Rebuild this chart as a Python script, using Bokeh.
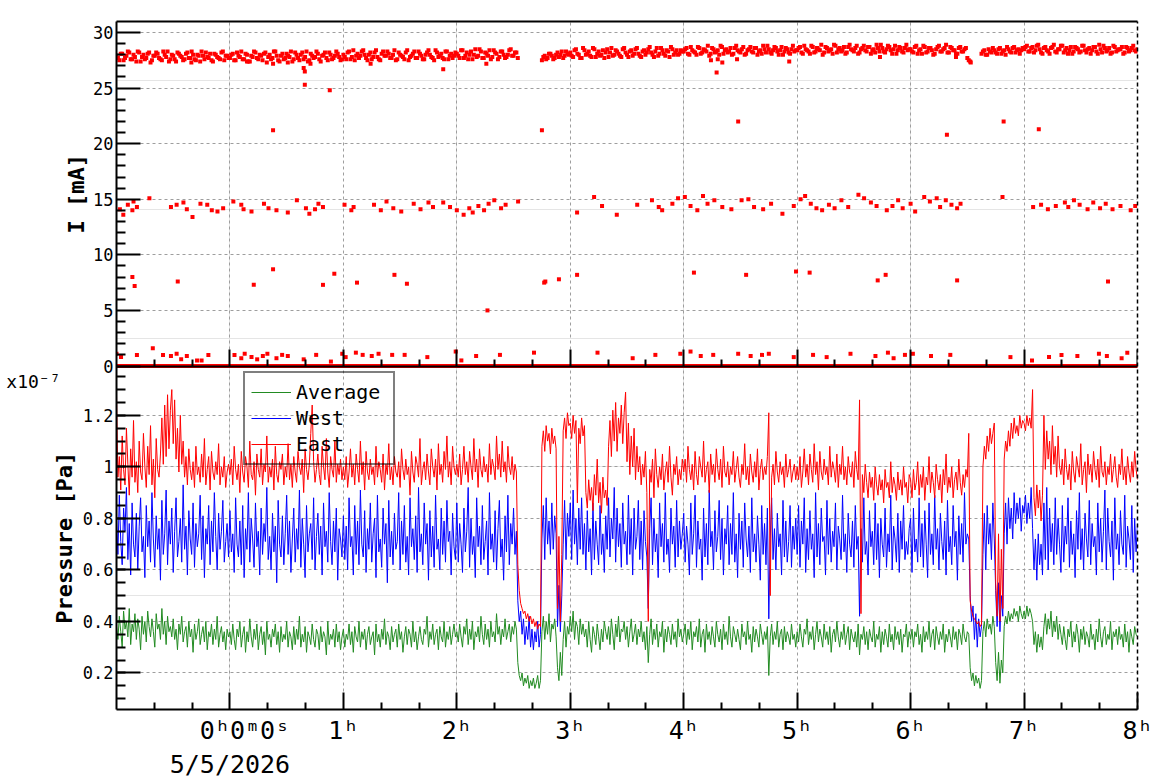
import json
import numpy as np
from bokeh.plotting import figure
from bokeh.models import (Range1d, Legend, LegendItem, FixedTicker, LinearAxis, Grid,
                          CustomJSTickFormatter)
from bokeh.embed import file_html
from bokeh.resources import INLINE

FONT = "DejaVu Sans Mono"
NB = "\u00a0"

# ---------------- data ----------------
# time in hours relative to 5/5/2026 00:00:00
P_START, P_STEP = -1.0, 0.0125   # pressure sample grid
I_START, I_STEP = -1.0, 0.025    # current sample grid (second set is offset by half a step)

# Pressure, units of 1e-9 Pa (axis shows x10^-7 Pa)
east_e9 = [
    # -1h
    128, 96, 104, 91, 112, 99, 93, 115, 101, 89, 107, 96, 118, 94, 102, 90, 110, 98, 95, 113,
    100, 92, 108, 97, 116, 93, 103, 88, 111, 99, 96, 105, 119, 101, 124, 104, 128, 107, 122, 130,
    109, 126, 103, 115, 98, 120, 101, 110, 96, 104, 93, 107, 99, 95, 102, 92, 108, 97, 100, 94,
    105, 96, 111, 93, 99, 104, 91, 106, 98, 95, 102, 97, 109, 93, 100, 96, 104, 92, 98, 101,
    # 0h
    97, 103, 93, 108, 99, 95, 101, 90, 106, 98, 94, 104, 100, 92, 110, 97, 95, 102, 89, 105,
    99, 96, 107, 93, 101, 98, 112, 94, 100, 96, 103, 91, 108, 97, 94, 102, 99, 105, 93, 100,
    96, 109, 95, 101, 92, 104, 98, 94, 106, 100, 97, 103, 90, 107, 99, 95, 101, 113, 124, 102,
    94, 99, 105, 97, 93, 108, 100, 95, 111, 98, 92, 104, 99, 96, 110, 94, 101, 97, 103, 95,
    # 1h
    100, 95, 104, 92, 98, 107, 96, 101, 93, 105, 99, 94, 110, 97, 102, 91, 106, 98, 95, 103,
    97, 100, 93, 108, 96, 102, 99, 94, 105, 91, 101, 97, 109, 95, 100, 93, 104, 98, 96, 102,
    92, 107, 99, 95, 103, 97, 100, 89, 106, 98, 94, 104, 101, 96, 111, 93, 99, 102, 95, 105,
    98, 93, 107, 100, 96, 103, 91, 109, 97, 101, 94, 106, 99, 112, 96, 102, 93, 108, 100, 97,
    # 2h
    101, 96, 105, 93, 99, 108, 97, 102, 94, 106, 100, 95, 111, 98, 103, 92, 107, 99, 96, 104,
    98, 101, 94, 109, 97, 103, 100, 95, 112, 99, 105, 96, 110, 98, 102, 94, 108, 100, 97, 104,
    95, 101, 98,
    62, 52, 47, 45, 43, 44, 41, 43, 40, 42, 39, 41, 38, 40, 37, 39, 38,
    108, 114, 106, 116, 110, 113, 105, 115, 109, 112, 107,
    45, 73, 40, 66,
    114, 119, 111, 121, 116,
    # 3h
    117, 111, 120, 113, 118, 86, 115, 109, 119, 112, 116,
    90, 84, 95, 87, 92, 83, 97, 89, 103, 86, 94, 82, 96, 88, 91, 85,
    108, 118, 104, 122, 110, 125, 106, 119, 113, 124, 109, 121,
    129, 102, 117, 97, 112, 100, 115, 95, 108, 98, 104,
    93, 101, 96, 106, 90, 40, 99, 94, 103, 88, 107, 97, 92, 100, 95, 105, 91, 98, 102, 94,
    108, 96, 89, 101, 97, 104, 93, 99, 95, 103,
    # 4h
    98, 103, 94, 108, 99, 95, 101, 91, 106, 97, 93, 104, 100, 96, 110, 94, 99, 102, 90, 105,
    97, 101, 94, 107, 99, 95, 103, 92, 108, 98, 96, 102, 93, 100, 97, 106, 94, 99, 104, 96,
    92, 101, 97, 109, 95, 100, 93, 105, 98, 94, 102, 96, 107, 91, 99, 103, 95, 100, 97, 104,
    121, 50, 96, 101, 93, 106, 98, 94, 102, 97, 100, 92, 105, 96, 99, 103, 94, 98, 101, 95,
    # 5h
    100, 95, 104, 92, 98, 107, 96, 101, 93, 105, 99, 94, 109, 97, 102, 91, 106, 98, 95, 103,
    97, 100, 93, 108, 96, 102, 99, 94, 105, 92, 101, 97, 108, 95, 100, 93, 104, 98, 96, 102,
    92, 106, 99, 95, 126, 43, 97, 90, 101, 94, 88, 98, 92, 96, 87, 100, 93, 89, 97, 91,
    95, 86, 99, 92, 94, 88, 102, 90, 96, 93, 87, 98, 91, 95, 89, 100, 92, 94, 86, 97,
    # 6h
    95, 88, 99, 91, 94, 102, 89, 97, 92, 100, 87, 96, 93, 104, 90, 98, 94, 88, 101, 95,
    91, 97, 86, 99, 93, 105, 90, 96, 92, 100, 88, 95, 98, 91, 103, 94, 89, 97, 92, 99,
    96,
    113,
    48, 44, 42, 41, 40, 39, 40, 38, 39,
    100, 108, 103, 112, 106, 115, 109, 113, 117,
    55, 42, 74, 40, 68, 45,
    103, 110, 106, 114, 108, 117, 111, 119, 113, 116, 112, 120, 115, 118,
    # 7h
    117, 114, 120, 116, 119, 115,
    130,
    88, 81, 93, 84, 91, 79, 89,
    120, 99, 114, 103, 110, 97, 116, 101, 108, 96, 112, 100,
    97, 103, 93, 107, 99, 95, 101, 91, 106, 98, 94, 104, 100, 96, 109, 93, 99, 102, 90, 105,
    97, 101, 94, 106, 99, 95, 103, 92, 108, 98, 96, 102, 93, 100, 97, 105, 94, 99, 104, 96,
    92, 101, 97, 107, 95, 100, 93, 104, 98, 94, 102, 96, 106, 99,
    95,
]
west_e9 = [
    # -1h
    80, 66, 89, 71, 62, 84, 75, 92, 64, 78, 58, 86, 70, 65, 82, 60, 77, 88, 67, 73,
    57, 85, 69, 79, 63, 90, 72, 61, 81, 68, 76, 56, 87, 66, 74, 91, 62, 79, 70, 84,
    59, 75, 88, 65, 71, 80, 63, 93, 68, 77, 58, 83, 72, 66, 86, 61, 78, 69, 74, 89,
    64, 81, 57, 76, 70, 85, 62, 79, 67, 90, 73, 60, 82, 68, 75, 87, 63, 71, 78, 65,
    # 0h
    83, 67, 74, 59, 88, 70, 65, 79, 62, 85, 57, 76, 68, 90, 63, 80, 72, 61, 86, 69,
    75, 58, 84, 66, 78, 71, 92, 64, 73, 60, 82, 67, 77, 55, 87, 70, 65, 81, 62, 74,
    89, 66, 79, 59, 72, 84, 63, 76, 68, 91, 61, 80, 70, 57, 85, 67, 74, 78, 64, 88,
    60, 73, 82, 66, 77, 58, 86, 69, 75, 63, 90, 71, 62, 79, 67, 84, 56, 76, 72, 65,
    # 1h
    81, 64, 77, 60, 88, 69, 73, 58, 85, 66, 79, 62, 91, 70, 65, 83, 59, 76, 68, 86,
    63, 74, 80, 57, 89, 67, 72, 61, 84, 70, 78, 55, 87, 65, 75, 62, 82, 68, 71, 90,
    60, 79, 66, 85, 63, 73, 58, 88, 69, 76, 64, 81, 59, 92, 67, 74, 62, 86, 70, 78,
    56, 83, 65, 77, 61, 89, 68, 72, 60, 84, 66, 79, 63, 87, 71, 75, 58, 82, 69, 64,
    # 2h
    86, 63, 78, 70, 59, 84, 67, 75, 92, 61, 80, 66, 73, 57, 88, 69, 77, 62, 85, 64,
    71, 79, 58, 90, 68, 74, 63, 83, 60, 76, 87, 65, 72, 56, 81, 67, 89, 62, 78, 70,
    84, 66, 75,
    48, 40, 44, 35, 41, 31, 38, 33, 42, 30, 37, 29, 36, 32, 40, 30, 35,
    72, 85, 64, 88, 70, 79, 66, 86, 68, 81, 74,
    38, 54, 36, 50,
    70, 87, 64, 82, 73,
    # 3h
    86, 64, 91, 70, 80, 62, 84, 68, 88, 66, 78,
    60, 83, 67, 76, 58, 86, 64, 79, 70, 62, 85, 66, 74, 59, 81, 68,
    88, 65, 80, 72, 92, 63, 84, 69, 78, 61, 86, 70,
    75, 62, 89, 66, 80, 58, 84, 68, 73, 87, 64,
    79, 60, 83, 71, 65, 45, 76, 88, 62, 80, 67, 74, 57, 86, 69, 78, 63, 90, 66, 72,
    59, 84, 70, 77, 61, 87, 65, 79, 68, 74,
    # 4h
    82, 63, 77, 70, 58, 86, 66, 74, 89, 61, 79, 68, 72, 56, 84, 65, 78, 62, 91, 69,
    75, 60, 83, 67, 73, 87, 64, 80, 58, 76, 70, 85, 62, 78, 66, 90, 63, 74, 57, 82,
    68, 79, 61, 86, 72, 65, 77, 59, 88, 67, 74, 63, 81, 70, 56, 85, 66, 78, 62, 84,
    41, 72, 88, 64, 76, 60, 82, 69, 74, 58, 87, 65, 79, 63, 71, 85, 61, 77, 68, 80,
    # 5h
    66, 85, 61, 79, 70, 88, 59, 76, 64, 83, 68, 74, 57, 90, 65, 78, 62, 84, 71, 73,
    58, 87, 66, 80, 63, 75, 69, 86, 60, 77, 72, 64, 89, 67, 74, 59, 82, 70, 65, 79,
    61, 85, 68, 73, 42, 76, 63, 88, 66, 71, 58, 83, 69, 75, 62, 86, 64, 78, 57, 80,
    70, 65, 84, 61, 74, 67, 89, 60, 77, 72, 63, 82, 59, 79, 68, 85, 64, 71, 66, 76,
    # 6h
    80, 59, 84, 67, 72, 63, 88, 65, 78, 61, 83, 70, 57, 86, 66, 74, 62, 89, 68, 76,
    60, 82, 71, 64, 79, 58, 87, 67, 73, 62, 85, 69, 75, 56, 81, 66, 78, 63, 90, 70,
    74,
    72,
    50, 40, 46, 33, 43, 30, 41, 34, 38,
    66, 82, 60, 85, 70, 78, 64, 86, 72,
    52, 38, 55, 36, 50, 42,
    74, 86, 70, 88, 76, 84, 72, 90, 78, 86, 80, 88, 75, 85,
    # 7h
    82, 89, 78, 86, 80, 92,
    76,
    60, 72, 56, 74, 62, 70, 58,
    86, 64, 92, 60, 84, 67, 78, 62, 88, 66, 80, 70,
    59, 85, 63, 77, 70, 88, 61, 79, 66, 74, 57, 83, 68, 90, 64, 76, 60, 82, 72, 65,
    87, 62, 78, 69, 73, 58, 86, 67, 80, 63, 75, 91, 60, 84, 71, 65, 79, 56, 88, 68,
    74, 62, 83, 70, 66, 89, 61, 77, 72, 64, 85, 59, 80, 67,
    78,
]
avg_e9 = [
    # -1h
    38, 33, 42, 36, 30, 44, 37, 40, 34, 45, 31, 39, 36, 43, 33, 41, 37, 29, 42, 35,
    40, 32, 44, 38, 34, 41, 36, 30, 43, 37, 39, 33, 45, 35, 40, 31, 42, 36, 38, 34,
    41, 33, 37, 29, 39, 35, 42, 32, 36, 38, 30, 40, 34, 37, 28, 39, 33, 36, 41, 31,
    35, 38, 32, 40, 29, 36, 34, 39, 31, 37, 33, 42, 30, 35, 38, 32, 36, 29, 37, 34,
    # 0h
    36, 31, 39, 33, 29, 37, 34, 40, 30, 35, 38, 28, 36, 32, 41, 34, 30, 37, 33, 39,
    29, 35, 38, 31, 36, 27, 40, 33, 35, 30, 37, 34, 39, 31, 36, 28, 38, 32, 35, 33,
    40, 30, 36, 34, 29, 38, 31, 37, 33, 42, 30, 35, 32, 38, 28, 36, 34, 31, 39, 33,
    30, 37, 35, 29, 38, 32, 36, 34, 27, 40, 31, 35, 33, 37, 30, 39, 32, 36, 29, 34,
    # 1h
    37, 30, 35, 33, 39, 31, 36, 28, 38, 34, 32, 40, 30, 36, 33, 37, 29, 35, 38, 31,
    34, 36, 27, 39, 32, 35, 30, 37, 33, 41, 31, 36, 34, 29, 38, 32, 35, 37, 30, 39,
    33, 36, 28, 34, 38, 31, 37, 35, 30, 40, 32, 36, 29, 34, 38, 33, 31, 37, 35, 42,
    30, 36, 33, 39, 31, 35, 37, 29, 38, 34, 32, 40, 30, 36, 33, 38, 31, 35, 39, 34,
    # 2h
    36, 32, 39, 34, 30, 38, 35, 41, 31, 37, 33, 40, 29, 36, 34, 38, 32, 42, 35, 31,
    39, 33, 37, 30, 40, 34, 36, 32, 43, 35, 38, 31, 37, 34, 41, 33, 36, 39, 32, 38,
    35, 40, 37,
    24, 19, 17, 20, 15, 18, 16, 19, 14, 17, 15, 18, 14, 16, 19, 14, 17,
    36, 42, 33, 40, 35, 43, 32, 39, 37, 41, 34,
    22, 17, 28, 19,
    33, 40, 30, 38, 35,
    # 3h
    42, 36, 44, 33, 40, 38, 31, 41, 35, 39, 34,
    37, 30, 40, 33, 28, 38, 35, 31, 39, 34, 29, 37, 32, 40, 36, 33,
    38, 31, 41, 35, 29, 39, 34, 42, 32, 37, 36, 40,
    33, 38, 30, 36, 41, 32, 35, 39, 31, 37, 34,
    40, 32, 36, 29, 38, 24, 35, 41, 31, 37, 33, 39, 30, 36, 34, 40, 28, 37, 32, 38,
    35, 31, 39, 33, 36, 30, 41, 34, 37, 32,
    # 4h
    35, 39, 31, 37, 33, 40, 29, 36, 34, 38, 32, 41, 30, 35, 37, 28, 39, 33, 36, 31,
    38, 34, 30, 40, 35, 32, 37, 29, 39, 33, 36, 31, 42, 34, 30, 38, 35, 32, 37, 33,
    29, 39, 34, 36, 31, 40, 33, 35, 28, 38, 32, 37, 34, 30, 39, 35, 31, 36, 33, 38,
    19, 34, 39, 31, 36, 33, 40, 30, 35, 37, 29, 38, 32, 36, 34, 31, 39, 33, 35, 30,
    # 5h
    36, 32, 39, 34, 30, 37, 35, 41, 31, 36, 33, 38, 29, 35, 40, 32, 37, 34, 30, 39,
    33, 36, 31, 38, 28, 35, 37, 32, 40, 34, 30, 36, 33, 39, 31, 35, 38, 29, 37, 34,
    32, 36, 30, 39, 27, 35, 33, 38, 31, 36, 29, 37, 34, 32, 40, 30, 35, 33, 38, 28,
    36, 31, 37, 34, 30, 39, 32, 35, 29, 38, 33, 36, 31, 37, 28, 35, 34, 39, 30, 36,
    # 6h
    33, 37, 30, 36, 34, 39, 31, 35, 28, 38, 32, 36, 33, 40, 30, 35, 37, 29, 38, 34,
    31, 36, 33, 39, 28, 35, 32, 37, 34, 30, 38, 33, 36, 29, 37, 35, 31, 39, 34, 32,
    36,
    35,
    22, 17, 20, 15, 19, 16, 18, 14, 17,
    36, 40, 34, 41, 37, 39, 35, 42, 38,
    24, 17, 28, 16, 25, 20,
    38, 42, 39, 44, 40, 43, 41, 45, 42, 44, 40, 46, 43, 41,
    # 7h
    44, 41, 46, 42, 45, 43,
    40,
    31, 36, 28, 35, 30, 34, 29,
    38, 43, 35, 41, 37, 44, 34, 40, 36, 42, 33, 39,
    35, 31, 38, 33, 29, 37, 34, 40, 30, 36, 32, 39, 35, 28, 37, 33, 38, 31, 36, 34,
    30, 39, 33, 35, 29, 37, 32, 41, 34, 30, 36, 38, 31, 35, 33, 40, 29, 36, 34, 37,
    31, 38, 33, 35, 30, 39, 32, 36, 28, 37, 34, 31, 38, 35,
    34,
]

# Beam current, tenths of mA (None = no beam reading)
I_main_d = [
    279, 275, 281, 277, 283, 276, 280, 274, 282, 278, 276, 281, 273, 279, 282, 277, 275, 280, 283, 276,
    279, 274, 281, 278, 276, 282, 277, 280, 275, 279, 283, 276, 278, 281, 274, 280, 277, 282, 275, 279,
    277, 281, 275, 279, 283, 276, 280, 274, 278, 282, 276, 279, 281, 273, 280, 277, 283, 275, 279, 276,
    281, 278, 274, 282, 277, 280, 276, 283, 275, 279, 278, 281, 274, 280, 277, 282, 276, 279, 281, 275,
    280, 276, 283, 278, 275, 281, 279, 284, 277, 280, 276, 282, 278, 275, 283, 279, 281, 277, 284, 276,
    280, 278, 282, 275, 279, 283, 277, 281, 276, 280, 284, 278, 275, 282, 279, 277, 283, 276, 281, 279,
    281, 277, 284, 279, 276, 283, 280, 278, 285, 277, 282, 279, 276, 284, 281, 278, 283, 277, 280, 285,
    279, 282, None, None, None, None, None, None, None, None, 275, 279, 277, 281, 276, 280, 278, 283, 279, 281,
    282, 278, 285, 280, 277, 284, 281, 279, 286, 278, 283, 280, 277, 285, 282, 279, 284, 281, 278, 286,
    280, 283, 279, 285, 281, 278, 284, 282, 287, 280, 283, 279, 286, 281, 284, 278, 285, 282, 280, 284,
    283, 286, 280, 284, 282, 287, 281, 285, 283, 279, 286, 282, 284, 288, 281, 285, 283, 280, 286, 284,
    282, 287, 281, 285, 283, 286, 280, 284, 288, 282, 285, 281, 287, 283, 284, 280, 286, 282, 285, 283,
    284, 287, 281, 285, 283, 288, 282, 286, 284, 280, 287, 283, 285, 289, 282, 286, 284, 281, 287, 285,
    283, 288, 282, 286, 284, 287, 281, 285, 289, 283, 286, 282, 288, 284, 285, 281, 287, 283, 286, 284,
    285, 282, 288, 284, 281, 287, 283, 286, 280, 285, 288, 283, 286, 282, 287, 284, 281, 286, 283, 285,
    277, 274, None, None, None, 281, 284, 280, 283, 286, 282, 285, 281, 284, 287, 283, 286, 282, 285, 284,
    285, 288, 283, 287, 284, 289, 282, 286, 284, 281, 287, 283, 285, 288, 282, 286, 284, 281, 287, 285,
    283, 288, 282, 286, 284, 287, 281, 285, 288, 283, 286, 282, 287, 284, 285, 281, 287, 283, 286, 284,
    285,
]
I_mid_d = [
    277, 281, 275, 279, 282, 276, 278, 283, 274, 280, 277, 282, 275, 279, 281, 276, 283, 278, 274, 280,
    276, 282, 279, 275, 281, 277, 283, 276, 280, 274, 279, 282, 277, 275, 281, 278, 276, 283, 279, 277,
    280, 275, 282, 278, 276, 281, 274, 279, 283, 277, 280, 275, 282, 278, 276, 283, 279, 274, 281, 277,
    279, 283, 276, 280, 275, 282, 278, 274, 281, 277, 283, 276, 279, 282, 275, 280, 277, 283, 278, 276,
    278, 282, 276, 284, 279, 277, 283, 280, 275, 282, 278, 284, 276, 281, 279, 283, 277, 280, 275, 282,
    279, 276, 284, 278, 281, 277, 283, 279, 276, 282, 280, 277, 284, 278, 281, 276, 283, 279, 277, 282,
    279, 284, 277, 282, 280, 276, 285, 279, 283, 277, 281, 284, 278, 282, 276, 283, 280, 278, 284, 279,
    282, 277, None, None, None, None, None, None, None, None, 278, 276, 281, 279, 277, 282, 280, 277, 283, 280,
    279, 284, 281, 277, 286, 280, 283, 278, 285, 281, 279, 284, 282, 278, 286, 280, 283, 279, 285, 282,
    278, 284, 281, 286, 279, 283, 280, 285, 282, 278, 286, 281, 284, 279, 283, 287, 280, 284, 281, 283,
    285, 281, 287, 283, 280, 286, 282, 284, 288, 281, 285, 283, 280, 287, 284, 282, 286, 281, 288, 283,
    285, 280, 284, 287, 282, 286, 283, 281, 285, 288, 282, 284, 286, 280, 287, 283, 285, 281, 288, 284,
    286, 282, 288, 284, 281, 287, 283, 285, 289, 282, 286, 284, 281, 288, 285, 283, 287, 282, 289, 284,
    286, 281, 285, 288, 283, 287, 284, 282, 286, 289, 283, 285, 287, 281, 288, 284, 286, 282, 289, 285,
    283, 287, 281, 285, 288, 282, 286, 284, 281, 287, 283, 285, 289, 282, 286, 284, 281, 287, 283, 286,
    275, None, None, None, None, 283, 280, 285, 282, 284, 281, 286, 283, 280, 285, 282, 287, 284, 281, 286,
    287, 283, 286, 282, 288, 285, 281, 287, 283, 286, 289, 282, 285, 288, 284, 281, 287, 283, 286, 282,
    288, 284, 285, 281, 287, 283, 289, 282, 286, 284, 281, 288, 283, 285, 287, 282, 286, 284, 288, 283,
]

# Isolated current readings: time [h], current [mA]
I_out_t = [
    -0.97, -0.94, -0.90, -0.86, -0.85, -0.82, -0.71, -0.52, -0.47, -0.41, -0.38, -0.33, -0.26, -0.20,
    -0.16, -0.11, -0.06, 0.03, 0.10, 0.12, 0.19, 0.30, 0.34, 0.41, 0.51, 0.59, 0.67, 0.70, 0.75, 0.78,
    0.82, 1.01, 1.07, 1.09, 1.27, 1.33, 1.38, 1.44, 1.51, 1.62, 1.68, 1.75, 1.79, 1.88, 1.94, 2.00,
    2.06, 2.11, 2.14, 2.19, 2.24, 2.28, 2.33, 2.39, 2.43, 2.54, 3.06, 3.21, 3.28, 3.41, 3.59, 3.72,
    3.78, 3.81, 3.90, 3.95, 4.01, 4.06, 4.12, 4.17, 4.21, 4.27, 4.34, 4.42, 4.51, 4.57, 4.62, 4.70,
    4.77, 4.87, 4.97, 5.03, 5.07, 5.12, 5.17, 5.22, 5.28, 5.33, 5.39, 5.45, 5.54, 5.59, 5.65, 5.70,
    5.79, 5.84, 5.89, 5.93, 6.00, 6.04, 6.12, 6.17, 6.23, 6.26, 6.31, 6.36, 6.41, 6.44, 6.81, 7.08,
    7.15, 7.21, 7.28, 7.36, 7.39, 7.44, 7.49, 7.56, 7.61, 7.67, 7.72, 7.78, 7.85, 7.94, 7.98,
    -0.86, -0.84, -0.46, 0.21, 0.38, 0.82, 0.92, 1.12, 1.45, 1.56, 2.27, 2.77, 2.78, 2.90, 3.06, 4.09,
    4.55, 4.99, 5.11, 5.71, 5.78, 6.41, 7.74,
    0.38, 0.65, 0.66, 0.66, 0.88, 2.75, 4.29, 4.48, 6.32, 6.82, 7.13,
    -0.34, 0.15, 0.38, 0.51, 0.71, 1.24, 1.88, 2.26, 4.24, 4.30, 4.34, 4.47, 4.93, 5.73, 6.40, 6.53,
    -1.00, -0.96, -0.82, -0.68, -0.59, -0.52, -0.47, -0.43, -0.38, -0.29, -0.25, -0.19, 0.04, 0.10,
    0.13, 0.19, 0.24, 0.29, 0.33, 0.41, 0.46, 0.51, 0.65, 0.76, 0.89, 0.99, 1.02, 1.11, 1.17, 1.25,
    1.31, 1.43, 1.54, 1.74, 1.99, 2.04, 2.17, 2.38, 2.68, 3.24, 3.55, 3.75, 3.97, 4.06, 4.15, 4.26,
    4.48, 4.59, 4.69, 4.75, 4.97, 5.14, 5.26, 5.47, 5.69, 5.80, 5.85, 5.95, 6.02, 6.18, 6.35, 6.88,
    7.07, 7.22, 7.33, 7.47, 7.66, 7.73, 7.86, 7.91,
]
I_out_v = [
    14.1, 13.6, 14.5, 14.0, 14.8, 14.3, 15.1, 14.3, 14.5, 14.7, 14.1, 13.4, 14.6, 14.5,
    14.0, 13.9, 14.2, 14.8, 14.5, 14.1, 13.9, 14.6, 14.2, 14.0, 13.8, 14.9, 14.2, 13.7, 14.1, 14.6,
    14.3, 14.5, 14.0, 14.3, 14.5, 14.0, 14.8, 14.2, 13.9, 14.6, 14.1, 14.7, 14.3, 14.7, 14.3, 14.0,
    13.6, 14.2, 13.8, 14.4, 14.0, 14.6, 14.9, 14.2, 14.5, 14.8, 13.8, 15.2, 14.4, 13.6, 14.5, 14.9,
    14.3, 14.0, 14.6, 15.1, 15.2, 14.4, 14.0, 15.3, 14.6, 14.9, 14.3, 14.1, 14.9, 15.0, 14.3, 14.1,
    14.6, 13.7, 14.4, 15.0, 15.3, 14.6, 14.2, 14.0, 14.5, 14.2, 14.9, 14.3, 15.4, 15.1, 14.7, 14.4,
    14.0, 14.4, 14.9, 14.2, 14.6, 13.9, 15.2, 14.8, 15.1, 14.3, 14.9, 14.5, 14.2, 14.6, 15.2, 14.3,
    14.5, 14.1, 14.4, 14.7, 14.3, 14.9, 14.5, 14.1, 14.7, 14.2, 14.6, 14.1, 14.4, 14.0, 14.4,
    8.0, 7.2, 7.6, 7.3, 8.7, 7.3, 8.3, 7.5, 8.2, 7.4, 5.0, 7.5, 7.6, 7.8, 8.2, 8.4,
    8.2, 8.5, 8.4, 7.7, 8.2, 7.7, 7.6,
    21.2, 26.8, 26.5, 25.3, 24.8, 21.2, 26.4, 22.0, 20.8, 22.0, 21.3,
    27.3, 27.4, 27.2, 27.3, 27.2, 27.2, 26.7, 27.2, 27.5, 27.6, 27.3, 27.6, 27.4, 27.8, 27.8, 27.3,
    1.1, 0.8, 1.0, 1.6, 1.0, 0.9, 1.1, 0.6, 0.9, 0.5, 0.5, 1.0, 1.0, 0.7,
    1.1, 0.8, 0.6, 0.9, 1.1, 0.7, 1.0, 0.9, 0.6, 1.0, 0.4, 1.1, 0.8, 1.2, 1.0, 0.9,
    1.1, 1.0, 1.0, 0.8, 1.3, 0.5, 0.9, 1.0, 1.2, 1.2, 0.7, 1.0, 1.1, 1.3, 0.9, 1.0,
    1.1, 0.9, 1.0, 1.1, 0.8, 1.0, 0.8, 1.1, 0.9, 1.2, 0.7, 1.0, 1.1, 0.9, 1.0, 0.8,
    0.5, 0.8, 1.0, 0.9, 1.1, 0.9, 0.7, 1.2,
]

# Axis ticks and labels
hour_ticks = [0, 1, 2, 3, 4, 5, 6, 7, 8]
hour_labels = [NB + NB + "0\u02b00\u1d500\u02e2\n5/5/2026", "1\u02b0", "2\u02b0", "3\u02b0",
               "4\u02b0", "5\u02b0", "6\u02b0", "7\u02b0", "8\u02b0"]
I_ticks = [0, 5, 10, 15, 20, 25, 30]
P_ticks = [0.2, 0.4, 0.6, 0.8, 1.0, 1.2]
P_multiplier = "x10\u207b\u2077"
I_title = "I [mA]"
P_title = "Pressure [Pa]"

# ---------------- derived ----------------
nP = min(len(east_e9), len(west_e9), len(avg_e9))
tP = P_START + P_STEP * np.arange(nP)
east = np.array(east_e9[:nP], dtype=float) / 100.0
west = np.array(west_e9[:nP], dtype=float) / 100.0
avg = np.array(avg_e9[:nP], dtype=float) / 100.0

tI = I_START + I_STEP * np.arange(len(I_main_d))
I_main = np.array([np.nan if v is None else v / 10.0 for v in I_main_d])
tI2 = I_START + I_STEP * (np.arange(len(I_mid_d)) + 0.5)
I_mid = np.array([np.nan if v is None else v / 10.0 for v in I_mid_d])
I_zero = np.array([0.0 for _ in range(len(I_main_d))])
m = min(len(I_out_t), len(I_out_v))

minor_hours = [-1 + k / 3.0 for k in range(1, 27) if k % 3 != 0]
I_minor = [v for v in range(0, 31) if v % 5 != 0]
P_minor = [round(0.1 + 0.05 * k, 2) for k in range(0, 26)]

# pad geometry: one frame, pressure (lower pad) and current (upper pad) ranges
P_LO, P_HI = 0.058, 2.729
I_LO, I_HI = -30.90, 30.99


def i_to_p(v):
    return P_LO + (v - I_LO) * (P_HI - P_LO) / (I_HI - I_LO)


P_PAD_TOP = i_to_p(0.0)                    # boundary between the two pads
I_TITLE_AT = i_to_p((0.0 + I_HI) / 2.0)    # middle of the upper pad
P_TITLE_AT = (P_LO + P_PAD_TOP) / 2.0      # middle of the lower pad
MULT_AT = 1.33                             # multiplier just below the pad boundary

GRID = "#9e9e9e"

p = figure(width=1158, height=782, x_range=Range1d(-1.0, 8.0), y_range=Range1d(P_LO, P_HI),
           x_axis_location=None, y_axis_location=None,
           output_backend="svg", toolbar_location=None,
           min_border_left=116, min_border_right=21, min_border_top=21, min_border_bottom=72)
p.extra_y_ranges = {"I": Range1d(I_LO, I_HI)}
p.outline_line_color = None
p.background_fill_color = "white"
p.border_fill_color = "white"


def no_ticks(ax):
    ax.major_tick_in = 0
    ax.major_tick_out = 0
    ax.minor_tick_in = 0
    ax.minor_tick_out = 0


def hide_labels(ax):
    ax.formatter = CustomJSTickFormatter(code="return '';")
    ax.major_label_text_color = None
    ax.major_label_text_font_size = "1px"
    ax.major_label_standoff = 0


# left: one axis carrying the ticks of both pads
axL = LinearAxis(ticker=FixedTicker(ticks=P_ticks + [i_to_p(v) for v in I_ticks],
                                    minor_ticks=P_minor + [i_to_p(v) for v in I_minor]),
                 formatter=CustomJSTickFormatter(
                     args=dict(plo=P_LO, phi=P_HI, ilo=I_LO, ihi=I_HI, split=1.3),
                     code="""
if (tick > split) {
  const v = ilo + (tick - plo) * (ihi - ilo) / (phi - plo);
  return String(Math.round(v));
}
return String(Math.round(tick * 10) / 10);
"""))
axL.major_tick_in = 24
axL.major_tick_out = 0
axL.minor_tick_in = 9
axL.minor_tick_out = 0
axL.major_tick_line_width = 2
axL.minor_tick_line_width = 2
axL.axis_line_width = 2
axL.major_label_text_font = FONT
axL.major_label_text_font_size = "17px"
axL.major_label_text_color = "black"
axL.major_label_standoff = 3
p.add_layout(axL, "left")


def label_axis(pos, text, standoff, size, bold=False, vertical=False):
    """An axis without line or ticks whose single tick label is a title text."""
    ax = LinearAxis(ticker=FixedTicker(ticks=[pos]),
                    formatter=CustomJSTickFormatter(code="return %s;" % json.dumps(text)))
    no_ticks(ax)
    ax.axis_line_color = None
    ax.major_label_text_font = FONT
    ax.major_label_text_font_size = size
    ax.major_label_text_font_style = "bold" if bold else "normal"
    ax.major_label_text_color = "black"
    ax.major_label_standoff = standoff
    if vertical:
        ax.major_label_orientation = "vertical"
    return ax


p.add_layout(label_axis(I_TITLE_AT, I_title, -10, "22px", bold=True, vertical=True), "left")
p.add_layout(label_axis(P_TITLE_AT, P_title, -16, "22px", bold=True, vertical=True), "left")
p.add_layout(label_axis(MULT_AT, P_multiplier, -11, "18px"), "left")

# bottom: time axis
axT = LinearAxis(ticker=FixedTicker(ticks=hour_ticks, minor_ticks=minor_hours),
                 formatter=CustomJSTickFormatter(
                     code="const L = %s; const i = Math.round(tick); return (i >= 0 && i < L.length) ? L[i] : '';"
                     % json.dumps(hour_labels)))
axT.major_tick_in = 17
axT.major_tick_out = 0
axT.minor_tick_in = 7
axT.minor_tick_out = 0
axT.major_tick_line_width = 2
axT.minor_tick_line_width = 2
axT.axis_line_width = 2
axT.major_label_text_font = FONT
axT.major_label_text_font_size = "25px"
axT.major_label_text_color = "black"
axT.major_label_standoff = 6
p.add_layout(axT, "below")

# top frame edge
axTop = LinearAxis(ticker=FixedTicker(ticks=[]))
no_ticks(axTop)
axTop.axis_line_width = 2
hide_labels(axTop)
p.add_layout(axTop, "above")

# time axis of the upper (current) pad, at I = 0
axT2 = LinearAxis(y_range_name="I", fixed_location=0.0,
                  ticker=FixedTicker(ticks=hour_ticks, minor_ticks=minor_hours))
axT2.major_tick_in = 0
axT2.major_tick_out = 17
axT2.minor_tick_in = 0
axT2.minor_tick_out = 7
axT2.major_tick_line_width = 2
axT2.minor_tick_line_width = 2
axT2.axis_line_width = 2
hide_labels(axT2)
p.add_layout(axT2, "above")

# right frame edge (dashed)
axR = LinearAxis(ticker=FixedTicker(ticks=[]))
no_ticks(axR)
axR.axis_line_width = 1.5
axR.axis_line_dash = "4 3"
hide_labels(axR)
p.add_layout(axR, "right")

# grids
for g in (Grid(dimension=0, ticker=FixedTicker(ticks=hour_ticks)),
          Grid(dimension=1, ticker=FixedTicker(ticks=P_ticks)),
          Grid(dimension=1, ticker=FixedTicker(ticks=I_ticks[1:]), y_range_name="I")):
    g.grid_line_color = GRID
    g.grid_line_dash = "3 3"
    g.grid_line_width = 1
    p.add_layout(g)

# current (upper pad)
for tx, ty in ((tI, I_zero), (tI, I_main), (tI2, I_mid), (I_out_t[:m], I_out_v[:m])):
    p.scatter(tx, ty, marker="square", size=4, color="red", line_width=0, y_range_name="I")

# pressure (lower pad)
r_avg = p.line(tP, avg, line_color="#228b22", line_width=1)
r_west = p.line(tP, west, line_color="blue", line_width=1)
r_east = p.line(tP, east, line_color="red", line_width=1)

legend = Legend(items=[LegendItem(label="Average", renderers=[r_avg]),
                       LegendItem(label="West", renderers=[r_west]),
                       LegendItem(label="East", renderers=[r_east])],
                location=(127, 244), orientation="vertical",
                background_fill_alpha=0.0, border_line_color="black", border_line_width=2,
                label_text_font=FONT, label_text_font_size="20px", label_text_color="black",
                glyph_width=40, glyph_height=26, label_height=26, label_width=91,
                spacing=0, padding=6, margin=0, label_standoff=5)
p.add_layout(legend)

open("out.html", "w").write(file_html(p, INLINE))
